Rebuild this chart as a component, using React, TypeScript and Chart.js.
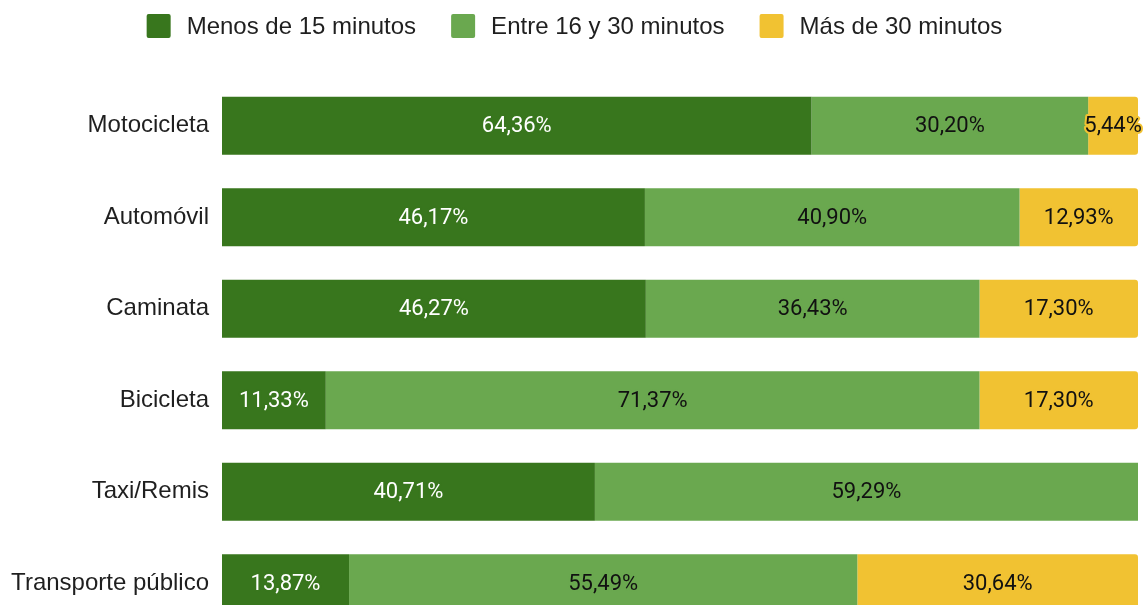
import React, { useEffect, useRef } from "react";
import { Chart, registerables } from "chart.js";

Chart.register(...registerables);

const categories = [
  "Motocicleta",
  "Automóvil",
  "Caminata",
  "Bicicleta",
  "Taxi/Remis",
  "Transporte público",
];
const seriesNames = ["Menos de 15 minutos", "Entre 16 y 30 minutos", "Más de 30 minutos"];
const menos15 = [64.36, 46.17, 46.27, 11.33, 40.71, 13.87];
const entre16y30 = [30.2, 40.9, 36.43, 71.37, 59.29, 55.49];
const mas30: (number | null)[] = [5.44, 12.93, 17.3, 17.3, null, 30.64];

const colors = ["#38761d", "#6aa84f", "#f1c232"];
const labelColors = ["#ffffff", "#111111", "#111111"];

const ARIAL = "'Liberation Sans', Arial, sans-serif";

const legendPlugin = {
  id: "customLegend",
  afterDraw(chart: any) {
    const ctx = chart.ctx as CanvasRenderingContext2D;
    ctx.save();
    ctx.font = `24px ${ARIAL}`;
    const box = 24;
    const gapText = 16;
    const gapItem = 35;
    const ds = chart.data.datasets;
    const widths = ds.map((d: any) => ctx.measureText(d.label).width);
    const total =
      widths.reduce((a: number, w: number) => a + box + gapText + w, 0) + gapItem * (widths.length - 1);
    let x = (chart.width - total) / 2 + 2;
    const cy = 26;
    ds.forEach((d: any, i: number) => {
      ctx.fillStyle = d.backgroundColor;
      ctx.beginPath();
      (ctx as any).roundRect(x, cy - 12, box, box, 2);
      ctx.fill();
      ctx.fillStyle = "#1f1f1f";
      ctx.textBaseline = "middle";
      ctx.textAlign = "left";
      ctx.fillText(d.label, x + box + gapText, cy + 1);
      x += box + gapText + widths[i] + gapItem;
    });
    ctx.restore();
  },
};

const valueLabelPlugin = {
  id: "valueLabels",
  afterDatasetsDraw(chart: any) {
    const ctx = chart.ctx as CanvasRenderingContext2D;
    ctx.save();
    ctx.font = "22px Roboto";
    ctx.textAlign = "center";
    ctx.textBaseline = "middle";
    chart.data.datasets.forEach((ds: any, di: number) => {
      const meta = chart.getDatasetMeta(di);
      meta.data.forEach((el: any, i: number) => {
        const v = ds.data[i];
        if (v == null) return;
        const { x, y, base } = el.getProps(["x", "y", "base"], true);
        const cx = (x + base) / 2;
        const text = v.toFixed(2).replace(".", ",") + "%";
        ctx.lineWidth = 4;
        ctx.lineJoin = "round";
        ctx.strokeStyle = colors[di];
        ctx.strokeText(text, cx, y + 1);
        ctx.fillStyle = labelColors[di];
        ctx.fillText(text, cx, y + 1);
      });
    });
    ctx.restore();
  },
};

export default function App() {
  const canvasRef = useRef<HTMLCanvasElement | null>(null);

  useEffect(() => {
    if (!canvasRef.current) return;
    const chart = new Chart(canvasRef.current, {
      type: "bar",
      data: {
        labels: categories,
        datasets: [
          { label: seriesNames[0], data: menos15, backgroundColor: colors[0] },
          { label: seriesNames[1], data: entre16y30, backgroundColor: colors[1] },
          {
            label: seriesNames[2],
            data: mas30,
            backgroundColor: colors[2],
            borderRadius: 3,
            borderSkipped: "start",
          },
        ],
      },
      options: {
        indexAxis: "y",
        animation: false,
        responsive: true,
        maintainAspectRatio: false,
        layout: { padding: { top: 80, left: 8, right: 7, bottom: 40 } },
        datasets: { bar: { categoryPercentage: 1, barPercentage: 0.635 } },
        plugins: {
          legend: { display: false },
          tooltip: { enabled: false },
        },
        scales: {
          x: { stacked: true, min: 0, max: 100, display: false },
          y: {
            stacked: true,
            grid: { display: false },
            border: { display: false },
            afterFit: (scale: any) => {
              scale.width = 214;
            },
            ticks: {
              padding: 5,
              color: "#1f1f1f",
              font: { size: 24, family: ARIAL },
            },
          },
        },
      } as any,
      plugins: [legendPlugin, valueLabelPlugin],
    });
    return () => chart.destroy();
  }, []);

  return (
    <div
      style={{
        position: "fixed",
        top: 0,
        left: 0,
        width: 1145,
        height: 605,
        overflow: "hidden",
        background: "#ffffff",
      }}
    >
      <div style={{ position: "relative", width: 1145, height: 669 }}>
        <canvas ref={canvasRef} />
      </div>
    </div>
  );
}
